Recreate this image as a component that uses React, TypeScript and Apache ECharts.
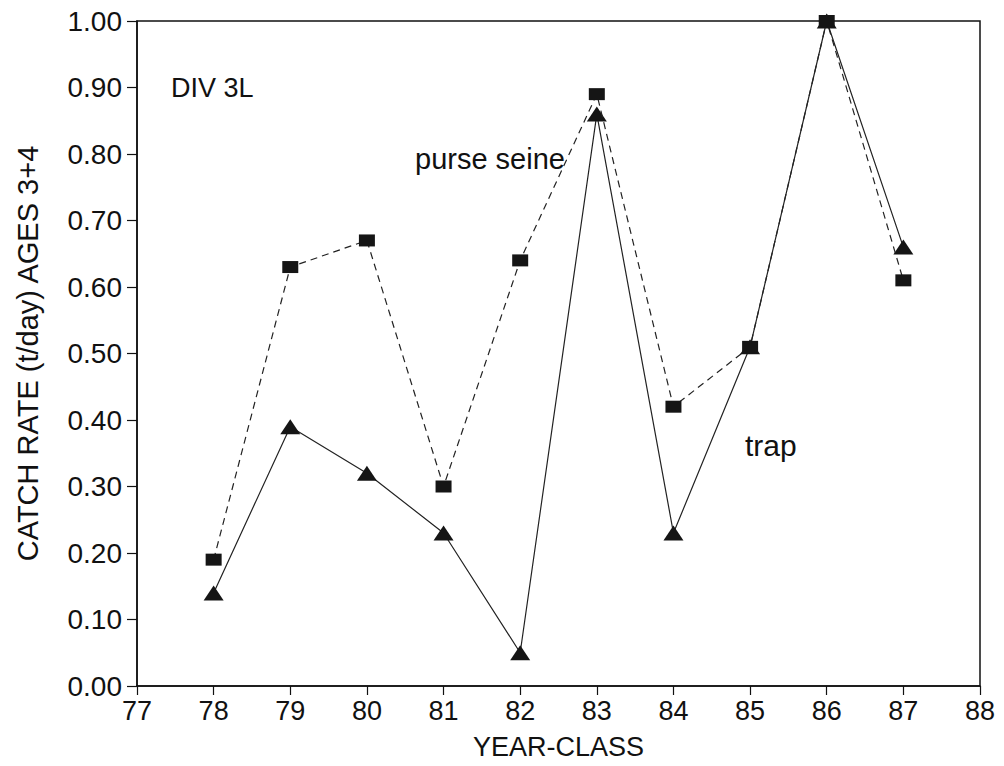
import React, { useEffect, useRef } from "react";
import * as echarts from "echarts";

const yearClasses = [78, 79, 80, 81, 82, 83, 84, 85, 86, 87];
const purseSeine = [0.19, 0.63, 0.67, 0.30, 0.64, 0.89, 0.42, 0.51, 1.0, 0.61];
const trap = [0.14, 0.39, 0.32, 0.23, 0.05, 0.86, 0.23, 0.51, 1.0, 0.66];
const xTicks = [77, 78, 79, 80, 81, 82, 83, 84, 85, 86, 87, 88];
const yTicks = [0, 0.1, 0.2, 0.3, 0.4, 0.5, 0.6, 0.7, 0.8, 0.9, 1.0];

const FONT = "'Liberation Sans', Arial, Helvetica, sans-serif";
const INK = "#111";

export default function App() {
  const ref = useRef<HTMLDivElement>(null);
  useEffect(() => {
    if (!ref.current) return;
    const chart = echarts.init(ref.current, null, { renderer: "svg" });
    const pts = (ys: number[]) => yearClasses.map((x, i) => [x, ys[i]]);
    chart.setOption({
      animation: false,
      backgroundColor: "#fff",
      textStyle: { fontFamily: FONT, color: INK },
      grid: {
        left: 137,
        top: 21,
        width: 843,
        height: 665,
        show: true,
        borderColor: INK,
        borderWidth: 1.5,
        backgroundColor: "transparent",
      },
      xAxis: {
        type: "value",
        min: xTicks[0],
        max: xTicks[xTicks.length - 1],
        interval: 1,
        name: "YEAR-CLASS",
        nameLocation: "middle",
        nameGap: 47,
        nameTextStyle: { fontSize: 27, color: INK, fontFamily: FONT },
        axisLine: { show: true, lineStyle: { color: INK, width: 1.5 } },
        axisTick: { show: true, inside: false, length: 9, lineStyle: { color: INK, width: 1.2 } },
        axisLabel: { fontSize: 27, color: INK, margin: 11, fontFamily: FONT },
        splitLine: { show: false },
      },
      yAxis: {
        type: "value",
        min: yTicks[0],
        max: yTicks[yTicks.length - 1],
        interval: 0.1,
        name: "CATCH RATE (t/day) AGES 3+4",
        nameLocation: "middle",
        nameGap: 95,
        nameTextStyle: { fontSize: 29, color: INK, fontFamily: FONT },
        axisLine: { show: true, lineStyle: { color: INK, width: 1.5 } },
        axisTick: { show: true, inside: false, length: 10, lineStyle: { color: INK, width: 1.2 } },
        axisLabel: {
          fontSize: 28,
          color: INK,
          margin: 15,
          fontFamily: FONT,
          formatter: (v: number) => v.toFixed(2),
        },
        splitLine: { show: false },
      },
      series: [
        {
          name: "purse seine",
          type: "line",
          data: pts(purseSeine),
          symbol: "rect",
          symbolSize: [16, 12],
          itemStyle: { color: "#151515" },
          lineStyle: { color: "#222", width: 1.2, type: [7, 5] },
          z: 3,
        },
        {
          name: "trap",
          type: "line",
          data: pts(trap),
          symbol: "triangle",
          symbolSize: [20, 15],
          itemStyle: { color: "#151515" },
          lineStyle: { color: "#222", width: 1.2, type: "solid" },
          z: 2,
        },
      ],
      graphic: [
        {
          type: "text",
          left: 171,
          top: 74,
          style: { text: "DIV 3L", fontSize: 27, fill: INK, fontFamily: FONT },
        },
        {
          type: "text",
          left: 415,
          top: 144,
          style: { text: "purse seine", fontSize: 29, fill: INK, fontFamily: FONT },
        },
        {
          type: "text",
          left: 745,
          top: 430,
          style: { text: "trap", fontSize: 30, fill: INK, fontFamily: FONT },
        },
      ],
    });
    return () => chart.dispose();
  }, []);
  return (
    <div
      ref={ref}
      style={{ position: "fixed", left: 0, top: 0, width: 1004, height: 766, background: "#fff" }}
    />
  );
}
